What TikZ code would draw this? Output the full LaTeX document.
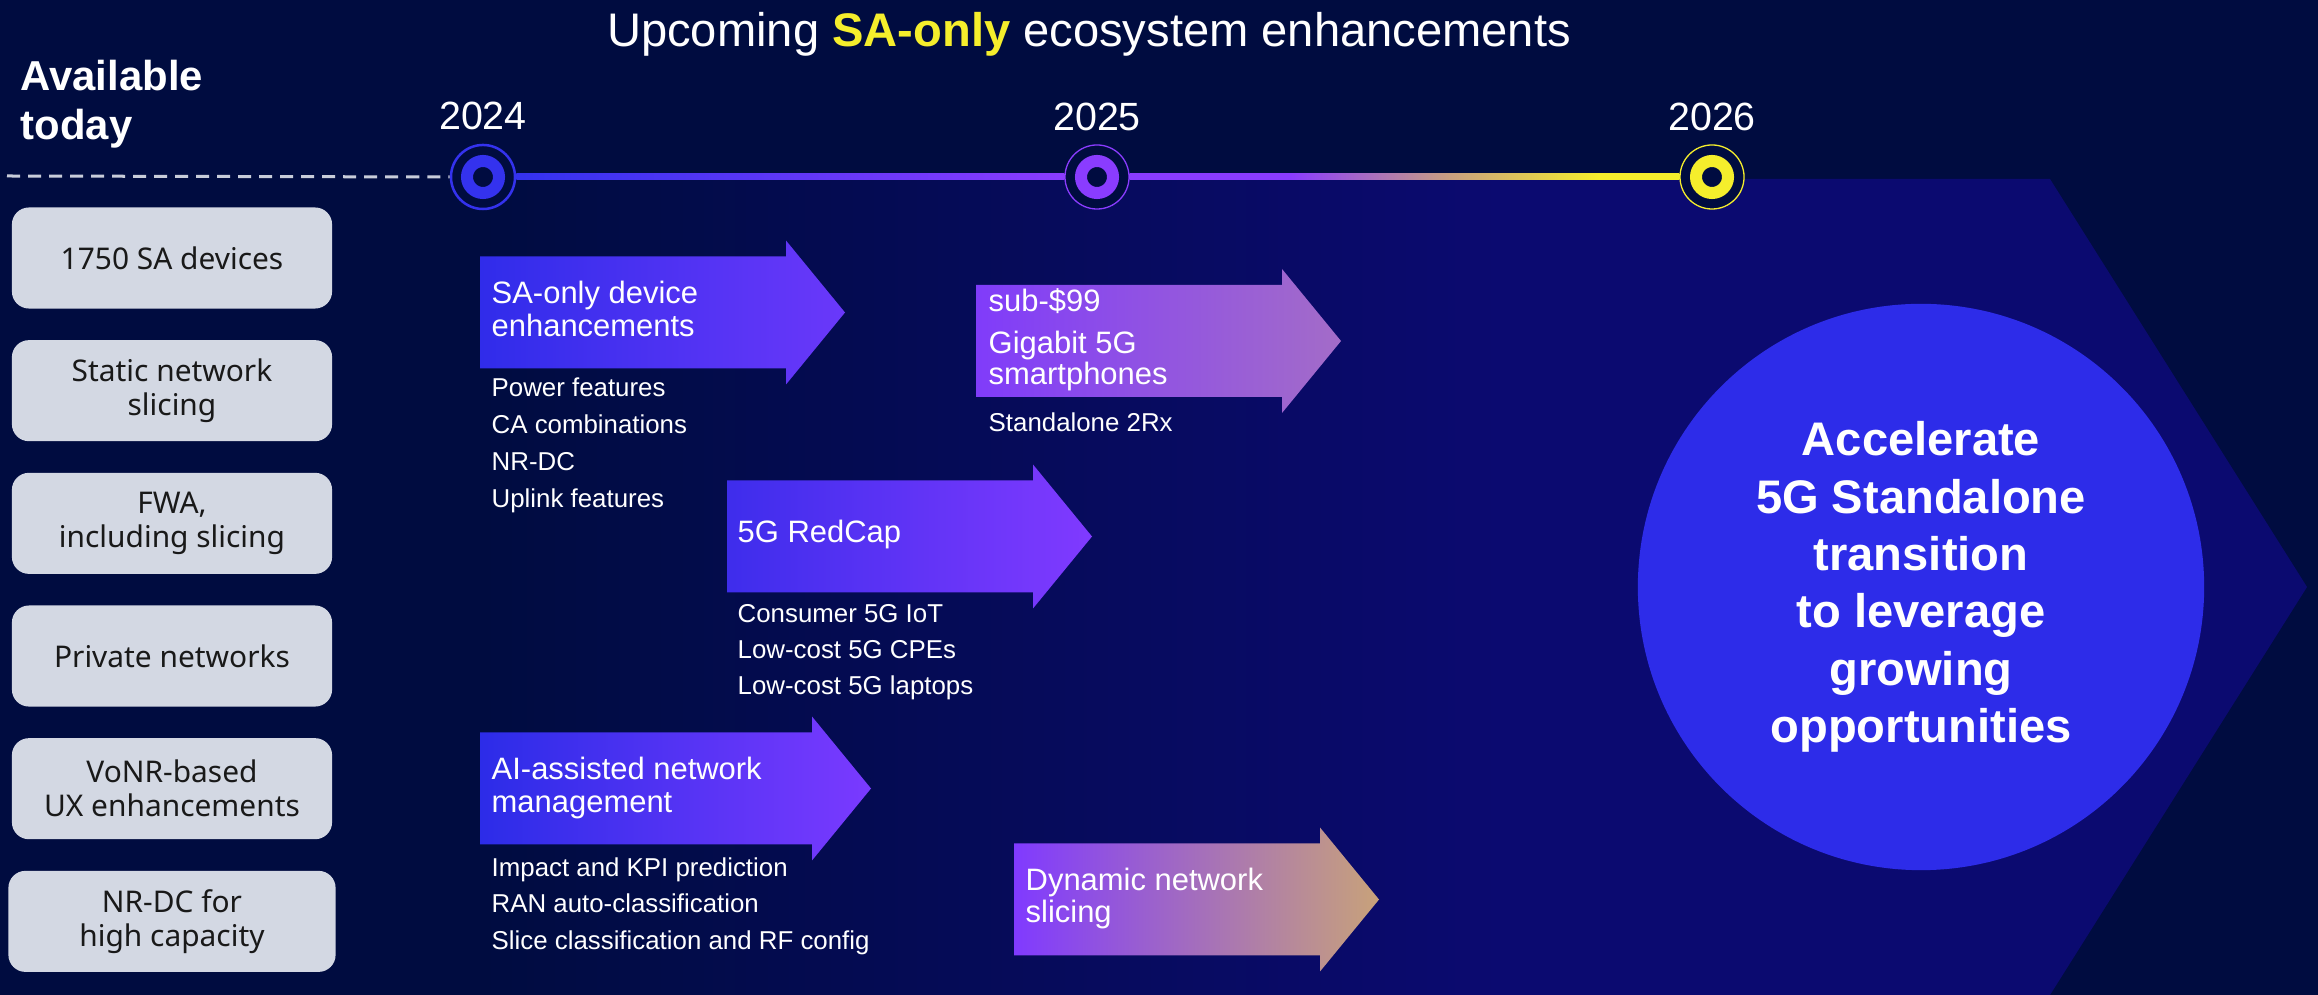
\documentclass[tikz,border=0pt]{standalone}
\usepackage{fontspec}
\setmainfont{Liberation Sans}
\newfontfamily\boxfont{Noto Sans}
\usetikzlibrary{positioning, calc}

\definecolor{bgnavy}{RGB}{0,12,64}
\definecolor{chevblue}{RGB}{11,10,112}
\definecolor{goalblue}{RGB}{45,44,233}
\definecolor{boxgray}{RGB}{211,216,227}
\definecolor{dashgray}{RGB}{200,205,218}
\definecolor{saYellow}{RGB}{245,238,44}
\definecolor{tlBlue}{RGB}{52,50,238}
\definecolor{tlPurple}{RGB}{138,60,255}
\definecolor{tlTan}{RGB}{200,160,128}
\definecolor{devL}{RGB}{48,44,234}
\definecolor{devR}{RGB}{106,56,250}
\definecolor{phoneL}{RGB}{128,60,250}
\definecolor{phoneR}{RGB}{163,108,200}
\definecolor{redcapL}{RGB}{62,45,236}
\definecolor{redcapR}{RGB}{128,58,255}
\definecolor{aiL}{RGB}{44,44,232}
\definecolor{aiR}{RGB}{122,58,255}
\definecolor{dynL}{RGB}{128,58,255}
\definecolor{dynR}{RGB}{200,162,122}

% purple -> tan -> yellow between 2025 and 2026
\pgfdeclarehorizontalshading{tlfade}{100bp}{color(0bp)=(tlPurple); color(39.6bp)=(tlPurple); color(54.1bp)=(tlTan); color(67.7bp)=(saYellow); color(100bp)=(saYellow)}

\tikzset{
	today/.style={rounded corners=0.17cm, fill=boxgray, text=black!90, minimum width=3.2cm, minimum height=1.01cm, align=center, font=\boxfont\fontsize{8.5}{9.7}\selectfont},
	avail/.style={anchor=base west, inner sep=0pt, text=white, font=\bfseries\fontsize{11.9}{14}\selectfont},
	head/.style={anchor=base west, inner sep=0pt, text=white, font=\fontsize{8.8}{9.4}\selectfont},
	item/.style={anchor=base west, inner sep=0pt, text=white, font=\fontsize{7.35}{9}\selectfont},
	year/.style={inner sep=0pt, text=white, font=\fontsize{11.2}{12}\selectfont},
	ring/.style={circle, draw=#1, fill=bgnavy, minimum size=0.64cm, inner sep=0pt},
	hole/.style={line width=0.12cm},
}

% gradient arrow: left x, centre y, body length, left colour, right colour
\newcommand{\featarrow}[5]{%
	\shade[left color=#4, right color=#5] (#1,#2-56) -- ++(#3,0) -- ++(0,-16) -- ++(59,72) -- ++(-59,72) -- ++(0,-16) -- ++(-#3,0) -- cycle;}

\begin{document}
\begin{tikzpicture}[x=0.01cm, y=-0.01cm, node distance=1.326cm]
	\useasboundingbox (0,0) rectangle (2318,995);
	\fill[bgnavy] (0,0) rectangle (2318,995);
	
	% chevron behind the goal
	\shade[left color=bgnavy, right color=chevblue] (480,179) rectangle (1501,995);
	\fill[chevblue] (1500,179) -- (2050,179) -- (2307,587) -- (2050,995) -- (1500,995) -- cycle;
	\node (goal) [circle, fill=goalblue, minimum size=5.66cm, text=white, align=center, font=\bfseries\fontsize{13.4}{16.3}\selectfont] at (1921,587) {Accelerate\\5G Standalone\\transition\\to leverage\\growing\\opportunities};
	
	\node (title) [inner sep=0pt, anchor=base, text=white, font=\fontsize{13.4}{15}\selectfont] at (1089,47) {Upcoming \textcolor{saYellow}{\bfseries SA-only} ecosystem enhancements};
	
	% available today
	\node (avail1) [avail] at (20,91) {Available};
	\node (avail2) [avail] at (20,140) {today};
	
	\node (sadev) [today] at (172,258) {1750 SA devices};
	\node (slice) [today, below of=sadev] {Static network\\slicing};
	\node (fwa) [today, below of=slice] {FWA,\\including slicing};
	\node (priv) [today, below of=fwa] {Private networks};
	\node (vonr) [today, below of=priv] {VoNR-based\\UX enhancements};
	\node (nrdc) [today, below of=vonr, minimum width=3.27cm] {NR-DC for\\high capacity};
	
	% arrows
	\featarrow{480}{312.5}{306}{devL}{devR}
	\featarrow{976}{341}{306}{phoneL}{phoneR}
	\featarrow{727}{536.5}{306}{redcapL}{redcapR}
	\featarrow{480}{788.5}{332}{aiL}{aiR}
	\featarrow{1014}{899.5}{306}{dynL}{dynR}
	
	\node (devHd1) [head] at (491,304) {SA-only device};
	\node (devHd2) [head] at (491,337) {enhancements};
	\foreach \t [count=\i from 0] in {Power features, CA combinations, NR-DC, Uplink features}
		\node (devItem\i) [item] at (491,397+36.7*\i) {\t};
	
	\node (phoneHd1) [head] at (988,312) {sub-\$99};
	\node (phoneHd2) [head] at (988,354) {Gigabit 5G};
	\node (phoneHd3) [head] at (988,385) {smartphones};
	\node (phoneItem) [item] at (988,432) {Standalone 2Rx};
	
	\node (redcapHd) [head] at (737,543) {5G RedCap};
	\foreach \t [count=\i from 0] in {Consumer 5G IoT, Low-cost 5G CPEs, Low-cost 5G laptops}
		\node (redcapItem\i) [item] at (737,623+36*\i) {\t};
	
	\node (aiHd1) [head] at (491,780) {AI-assisted network};
	\node (aiHd2) [head] at (491,813) {management};
	\foreach \t [count=\i from 0] in {Impact and KPI prediction, RAN auto-classification, Slice classification and RF config}
		\node (aiItem\i) [item] at (491,877+36*\i) {\t};
	
	\node (dynHd1) [head] at (1025,891) {Dynamic network};
	\node (dynHd2) [head] at (1025,923) {slicing};
	
	% timeline
	\node (y2024) [ring=tlBlue, line width=0.025cm] at (483,177) {};
	\node (y2025) [ring=tlPurple, line width=0.013cm] at (1097,177) {};
	\node (y2026) [ring=saYellow, line width=0.013cm] at (1712,177) {};
	\foreach \yr/\col in {2024/tlBlue, 2025/tlPurple, 2026/saYellow} {
		\draw[hole, \col] (y\yr.center) circle[radius=0.16cm];
		\node (lbl\yr) [year, above=0.13cm of y\yr] {\yr};
	}
	
	\coordinate (dashStart) at (7,176);
	\shade[left color=tlBlue, right color=tlPurple] ($(y2024.east)+(0,-3)$) rectangle ($(y2025.west)+(0,3)$);
	\shade[shading=tlfade] ($(y2025.east)+(0,-3)$) rectangle ($(y2026.west)+(0,3)$);
	\draw[dashgray, line width=0.03cm, dash pattern=on 0.13cm off 0.08cm] (dashStart) -- (y2024.west);
\end{tikzpicture}
\end{document}
